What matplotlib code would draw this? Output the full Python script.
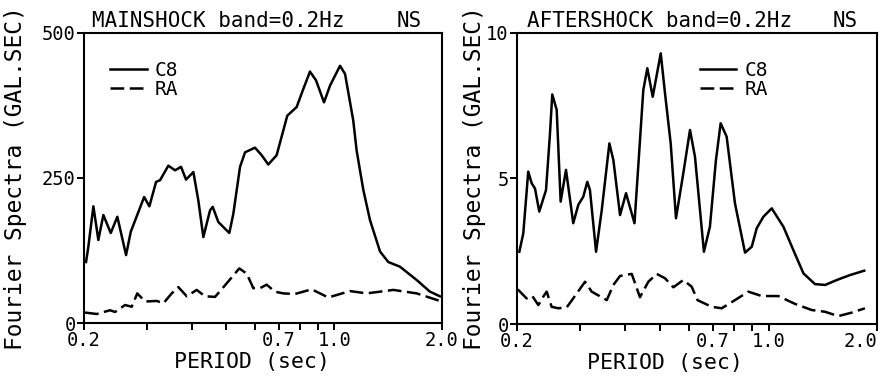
import matplotlib
matplotlib.use('Agg')
import matplotlib.pyplot as plt

plt.rcParams['font.family'] = ['DejaVu Sans Mono']

# Mainshock spectra (period in sec, amplitude in gal.sec)
main_c8_period = [0.2026, 0.2056, 0.2124, 0.2193, 0.2265, 0.2375, 0.2478, 0.2621, 0.2701, 0.2944,
                  0.3045, 0.3179, 0.3262, 0.3440, 0.3592, 0.3733, 0.3855, 0.4041, 0.4172, 0.4309,
                  0.4498, 0.4577, 0.4744, 0.5092, 0.5225, 0.5456, 0.5635, 0.6006, 0.6270, 0.6543,
                  0.6904, 0.7393, 0.7853, 0.8196, 0.8556, 0.8893, 0.9364, 0.9735, 1.038, 1.072,
                  1.130, 1.155, 1.206, 1.259, 1.343, 1.416, 1.526, 1.700, 1.851, 1.974]
main_c8_amp = [105, 131, 201, 143, 186, 155, 183, 117, 157, 217,
               201, 243, 246, 271, 263, 269, 247, 260, 211, 148,
               194, 200, 174, 155, 188, 269, 294, 302, 289, 273,
               289, 357, 372, 403, 433, 418, 380, 409, 443, 429,
               349, 297, 229, 177, 123, 105, 97, 74, 54, 46]

main_ra_period = [0.2013, 0.2170, 0.2364, 0.2441, 0.2604, 0.2718, 0.2817, 0.2963, 0.3193, 0.3332,
                  0.3516, 0.3668, 0.3873, 0.4129, 0.4355, 0.4645, 0.4954, 0.5430, 0.5697, 0.5942,
                  0.6201, 0.6475, 0.6829, 0.7206, 0.7768, 0.8650, 0.9626, 1.107, 1.232, 1.462,
                  1.700, 1.997]
main_ra_amp = [18, 15.5, 22, 19, 31, 28, 51, 37, 38, 34,
               51, 62, 46, 57, 46, 45, 65, 94, 85, 60,
               60, 66, 54, 51, 50, 58, 44, 55, 51, 57,
               51, 37]

# Aftershock spectra
after_c8_period = [0.2030, 0.2082, 0.2149, 0.2197, 0.2244, 0.2306, 0.2408, 0.2470, 0.2506, 0.2578,
                   0.2644, 0.2736, 0.2866, 0.2960, 0.3056, 0.3135, 0.3189, 0.3316, 0.3439, 0.3611,
                   0.3704, 0.3866, 0.4017, 0.4121, 0.4240, 0.4486, 0.4603, 0.4764, 0.5015, 0.5154,
                   0.5345, 0.5529, 0.5793, 0.6047, 0.6243, 0.6610, 0.6869, 0.7139, 0.7357, 0.7645,
                   0.8063, 0.8598, 0.8975, 0.9268, 0.9667, 1.020, 1.099, 1.171, 1.249, 1.345,
                   1.435, 1.546, 1.683, 1.843]
after_c8_amp = [2.48, 3.11, 5.23, 4.83, 4.65, 3.86, 4.60, 6.55, 7.88, 7.35,
                4.20, 5.29, 3.46, 4.09, 4.37, 4.88, 4.60, 2.48, 3.91, 6.20,
                5.63, 3.74, 4.49, 4.00, 3.46, 8.03, 8.78, 7.80, 9.29, 7.92,
                6.20, 3.63, 5.17, 6.66, 5.74, 2.48, 3.34, 5.63, 6.89, 6.43,
                4.14, 2.45, 2.65, 3.29, 3.68, 3.97, 3.34, 2.54, 1.74, 1.37,
                1.34, 1.51, 1.68, 1.83]

after_ra_period = [0.2009, 0.2126, 0.2206, 0.2292, 0.2366, 0.2418, 0.2496, 0.2604, 0.2748, 0.2866,
                   0.3090, 0.3225, 0.3551, 0.3704, 0.3866, 0.4166, 0.4391, 0.4633, 0.4887, 0.5154,
                   0.5437, 0.5793, 0.6113, 0.6343, 0.6947, 0.7407, 0.8063, 0.8784, 0.9566, 1.063,
                   1.184, 1.317, 1.435, 1.561, 1.701, 1.851]
after_ra_amp = [1.19, 0.88, 0.96, 0.65, 0.94, 1.11, 0.59, 0.54, 0.57, 0.88,
                1.45, 1.11, 0.82, 1.34, 1.65, 1.72, 0.92, 1.45, 1.72, 1.57,
                1.26, 1.51, 1.28, 0.82, 0.59, 0.54, 0.82, 1.11, 0.96, 0.96,
                0.69, 0.48, 0.42, 0.27, 0.39, 0.54]

x_major = [0.2, 0.7, 1.0, 2.0]
x_major_labels = ['0.2', '0.7', '1.0', '2.0']
x_minor = [0.3, 0.4, 0.5, 0.6, 0.8, 0.9]

panels = [
    dict(title='MAINSHOCK band=0.2Hz', c8=(main_c8_period, main_c8_amp), ra=(main_ra_period, main_ra_amp),
         ymax=500, yticks=[0, 250, 500], rect=[0.0942, 0.1522, 0.4013, 0.762],
         title_x=0.022, ns_x=0.944, ylab_x=-0.16, xlab_x=0.47, leg=(0.073, 0.904), last_ha='center'),
    dict(title='AFTERSHOCK band=0.2Hz', c8=(after_c8_period, after_c8_amp), ra=(after_ra_period, after_ra_amp),
         ymax=10, yticks=[0, 5, 10], rect=[0.5796, 0.1496, 0.4036, 0.7646],
         title_x=0.028, ns_x=0.947, ylab_x=-0.086, xlab_x=0.41, leg=(0.507, 0.904), last_ha='right'),
]

fig = plt.figure(figsize=(8.92, 3.81), dpi=100)

for p in panels:
    ax = fig.add_axes(p['rect'])
    ax.plot(p['c8'][0], p['c8'][1], color='black', lw=1.8, label='C8')
    ax.plot(p['ra'][0], p['ra'][1], color='black', lw=1.8, dashes=(5.5, 2.2), label='RA')

    ax.set_xscale('log')
    ax.set_xlim(0.2, 2.0)
    ax.set_ylim(0, p['ymax'])
    ax.set_xticks(x_major)
    ax.set_xticklabels(x_major_labels)
    ax.set_xticks(x_minor, minor=True)
    ax.set_xticklabels([], minor=True)
    ax.set_yticks(p['yticks'])
    ax.tick_params(which='both', direction='out', length=5, width=1.4, labelsize=13.5, pad=1)
    # the last label of the right panel sits inside the page edge
    ax.get_xticklabels()[-1].set_ha(p['last_ha'])

    for s in ax.spines.values():
        s.set_linewidth(1.5)

    ax.text(p['title_x'], 1.02, p['title'], transform=ax.transAxes, fontsize=15, va='baseline', ha='left')
    ax.text(p['ns_x'], 1.02, 'NS', transform=ax.transAxes, fontsize=15, va='baseline', ha='right')

    ax.set_ylabel('Fourier Spectra (GAL.SEC)', fontsize=16.5)
    ax.yaxis.set_label_coords(p['ylab_x'], 0.5)
    ax.set_xlabel('PERIOD (sec)', fontsize=15.5)
    ax.xaxis.set_label_coords(p['xlab_x'], -0.1)
    ax.xaxis.label.set_va('top')

    ax.legend(loc='upper left', bbox_to_anchor=p['leg'], frameon=False, fontsize=14,
              handlelength=1.9, handletextpad=0.4, labelspacing=0.0, borderpad=0, borderaxespad=0)

fig.savefig('out.png', dpi=100)
